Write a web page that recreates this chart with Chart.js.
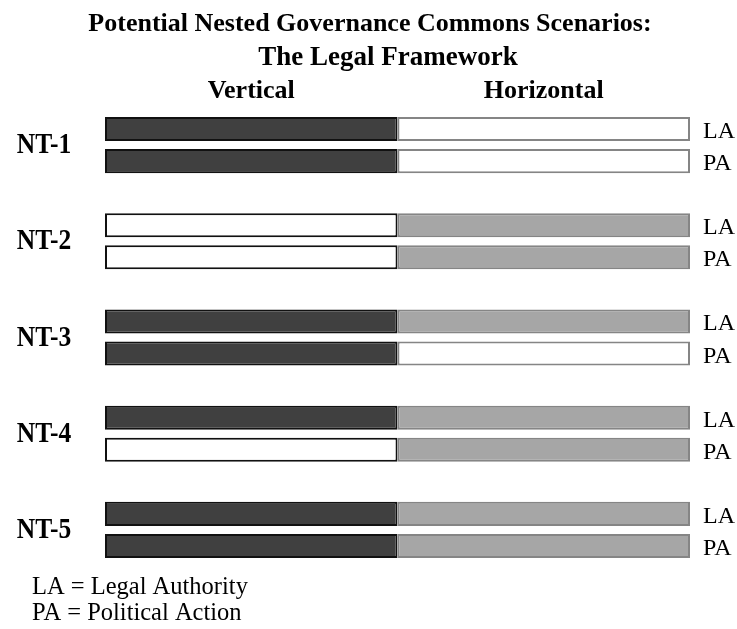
<!DOCTYPE html>
<html>
<head>
<meta charset="utf-8">
<script src="https://cdn.jsdelivr.net/npm/chart.js@4/dist/chart.umd.min.js"></script>
<style>
html,body{margin:0;padding:0;background:#fff;}
#wrap{width:737px;height:629px;position:relative;}
</style>
</head>
<body>
<div id="wrap"><canvas id="c"></canvas></div>
<script>
// ---- Data ----
const titleLines = ['Potential Nested Governance Commons Scenarios:', 'The Legal Framework'];
const columnHeaders = ['Vertical', 'Horizontal'];
const scenarios = ['NT-1', 'NT-2', 'NT-3', 'NT-4', 'NT-5'];
const aspects = ['LA', 'PA'];
const legendLines = ['LA = Legal Authority', 'PA = Political Action'];
// 1 = present (filled), 0 = absent (empty) for each scenario/aspect bar, in order LA, PA per scenario
const verticalPresent   = [1, 1,  0, 0,  1, 1,  1, 0,  1, 1];
const horizontalPresent = [0, 0,  1, 1,  1, 0,  1, 1,  1, 1];
// each half of a bar spans one unit
const verticalValues   = [1, 1, 1, 1, 1, 1, 1, 1, 1, 1];
const horizontalValues = [1, 1, 1, 1, 1, 1, 1, 1, 1, 1];

// ---- Build rows (with spacer rows between scenarios) ----
const rowLabels = [], rowIndex = [];
scenarios.forEach((s, si) => {
  aspects.forEach((a, ai) => { rowLabels.push(s + ' ' + a); rowIndex.push(si * aspects.length + ai); });
  if (si < scenarios.length - 1) { rowLabels.push(''); rowIndex.push(-1); }
});
const pick = (arr) => rowIndex.map(i => i < 0 ? null : arr[i]);

const DARK = '#404040', DARK_B = '#111111';
const GRAY = '#a6a6a6', GRAY_B = '#858585';
const WHITE = '#ffffff';

const vColors = rowIndex.map(i => i < 0 ? WHITE : (verticalPresent[i] ? DARK : WHITE));
const vBorders = rowIndex.map(i => DARK_B);
const hColors = rowIndex.map(i => i < 0 ? WHITE : (horizontalPresent[i] ? GRAY : WHITE));
const hBorders = rowIndex.map(i => GRAY_B);

const SERIF = '"Liberation Serif", "Times New Roman", serif';

const textPlugin = {
  id: 'texts',
  afterDraw(chart) {
    const ctx = chart.ctx;
    const x = chart.scales.x, y = chart.scales.y;
    ctx.save();
    ctx.fillStyle = '#000';
    // Title
    ctx.textAlign = 'center';
    ctx.textBaseline = 'alphabetic';
    ctx.font = 'bold 26px ' + SERIF;
    ctx.fillText(titleLines[0], 370, 31);
    ctx.font = 'bold 27px ' + SERIF;
    ctx.fillText(titleLines[1], 388, 65);
    // Column headers centered over each half
    ctx.font = 'bold 26px ' + SERIF;
    ctx.fillText(columnHeaders[0], (x.getPixelForValue(0) + x.getPixelForValue(1)) / 2, 98);
    ctx.fillText(columnHeaders[1], (x.getPixelForValue(1) + x.getPixelForValue(2)) / 2, 98);
    // Row labels LA / PA on the right
    ctx.textAlign = 'left';
    ctx.font = '24px ' + SERIF;
    rowIndex.forEach((ri, r) => {
      if (ri < 0) return;
      const a = aspects[ri % aspects.length];
      ctx.fillText(a, chart.chartArea.right + 13, y.getPixelForValue(r) + 9);
    });
    // Scenario labels on the left
    ctx.textAlign = 'center';
    ctx.font = 'bold 29px ' + SERIF;
    scenarios.forEach((s, si) => {
      const rows = [];
      rowIndex.forEach((ri, r) => { if (ri >= 0 && Math.floor(ri / aspects.length) === si) rows.push(r); });
      const cy = (y.getPixelForValue(rows[0]) + y.getPixelForValue(rows[rows.length - 1])) / 2;
      ctx.save();
      ctx.translate(44, cy + 8);
      ctx.scale(0.88, 1);
      ctx.fillText(s, 0, 0);
      ctx.restore();
    });
    // Key
    ctx.textAlign = 'left';
    ctx.font = '24.5px ' + SERIF;
    ctx.fillText(legendLines[0], 32, 594);
    ctx.fillText(legendLines[1], 32, 620);
    ctx.restore();
  }
};

new Chart(document.getElementById('c'), {
  type: 'bar',
  data: {
    labels: rowLabels,
    datasets: [
      { label: columnHeaders[0], data: pick(verticalValues), backgroundColor: vColors, borderColor: vBorders,
        borderWidth: 2, borderSkipped: false, barPercentage: 0.75, categoryPercentage: 1 },
      { label: columnHeaders[1], data: pick(horizontalValues), backgroundColor: hColors, borderColor: hBorders,
        borderWidth: 2, borderSkipped: false, barPercentage: 0.75, categoryPercentage: 1 }
    ]
  },
  options: {
    indexAxis: 'y',
    responsive: true,
    maintainAspectRatio: false,
    animation: false,
    layout: { padding: { left: 105, right: 47, top: 113, bottom: 67 } },
    scales: {
      x: { stacked: true, min: 0, max: 2, display: false },
      y: { stacked: true, display: false }
    },
    plugins: { legend: { display: false }, tooltip: { enabled: false }, title: { display: false } }
  },
  plugins: [textPlugin]
});
</script>
</body>
</html>
